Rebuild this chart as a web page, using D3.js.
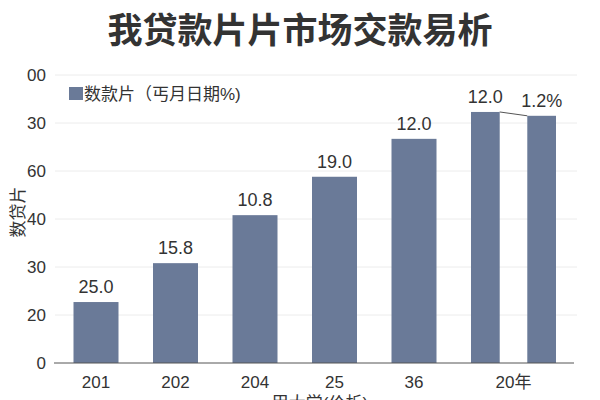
<!DOCTYPE html>
<html>
<head>
<meta charset="utf-8">
<script src="https://cdn.jsdelivr.net/npm/d3@7"></script>
<style>
  body { margin: 0; background: #fff; }
  svg { display: block; }
  text { font-family: "Liberation Sans", "Noto Sans CJK SC", sans-serif; fill: #333; }
</style>
</head>
<body>
<svg></svg>
<script>
// Abmessungen
const width = 600;
const height = 400;

// Daten aus dem Bild
const categories = ["201", "202", "204", "25", "36", "20年"];
const barCategory = ["201", "202", "204", "25", "36", "20年", "20年"];
const barValues = [12.7, 20.8, 30.8, 38.8, 46.7, 52.3, 51.5];
const barLabels = ["25.0", "15.8", "10.8", "19.0", "12.0", "12.0", "1.2%"];
const yTickValues = [0, 10, 20, 30, 40, 50, 60];
const yTickLabels = ["0", "20", "30", "40", "60", "30", "00"];

const title = "我贷款片片市场交款易析";
const legendLabel = "数款片（丐月日期%)";
const yTitle = "数贷片";
const xTitle = "甲大学(价析)";

const svg = d3.select("svg")
    .attr("width", width)
    .attr("height", height);

// Skalen
const x = d3.scaleBand()
    .domain(categories)
    .range([56.25, 533.25])
    .paddingInner(0.434)
    .paddingOuter(0.217);

const y = d3.scaleLinear()
    .domain([0, 60])
    .range([363, 75]);

// jede Gruppe bekommt eine eigene Unterskala (letzte Gruppe hat zwei Balken)
const groups = categories.map(c => {
    const idx = barCategory.map((b, i) => b === c ? i : -1).filter(i => i >= 0);
    const x0 = x(c);
    const multi = idx.length > 1;
    const x1 = multi ? x0 + x.bandwidth() + 40 : x0 + x.bandwidth();
    const sub = d3.scaleBand().domain(idx).range([x0, x1]).paddingInner(multi ? 0.49 : 0);
    return { cat: c, idx, sub, center: (x0 + x1) / 2 };
});

const bars = [];
groups.forEach(g => g.idx.forEach(i => bars.push({
    i, x: g.sub(i), w: g.sub.bandwidth(), v: barValues[i], label: barLabels[i]
})));

// Gitterlinien
svg.append("g")
    .selectAll("line")
    .data(yTickValues.filter(d => d > 0))
    .enter().append("line")
    .attr("x1", 55).attr("x2", 577)
    .attr("y1", d => y(d)).attr("y2", d => y(d))
    .attr("stroke", "#ececec")
    .attr("stroke-width", 1);

// y-Achse
const yAxis = svg.append("g")
    .attr("transform", "translate(54,0)")
    .call(d3.axisLeft(y).tickValues(yTickValues)
        .tickFormat((d, i) => yTickLabels[i]).tickSize(0).tickPadding(8));
yAxis.select(".domain").remove();
yAxis.selectAll("text").style("font-size", "17px").attr("fill", "#333");

// Balken
svg.append("g")
    .selectAll("rect")
    .data(bars)
    .enter().append("rect")
    .attr("x", d => d.x)
    .attr("y", d => y(d.v))
    .attr("width", d => d.w)
    .attr("height", d => y(0) - y(d.v))
    .attr("fill", "#6a7a98");

// Werte über den Balken
svg.append("g")
    .selectAll("text")
    .data(bars)
    .enter().append("text")
    .attr("x", d => d.x + d.w / 2)
    .attr("y", d => y(d.v) - 9)
    .attr("text-anchor", "middle")
    .style("font-size", "18px")
    .text(d => d.label);

// Verbindungslinie zwischen den letzten zwei Balken
const b6 = bars[5], b7 = bars[6];
svg.append("line")
    .attr("x1", b6.x + b6.w).attr("y1", y(b6.v))
    .attr("x2", b7.x).attr("y2", y(b7.v))
    .attr("stroke", "#555")
    .attr("stroke-width", 1);

// Grundlinie
svg.append("line")
    .attr("x1", 54).attr("x2", 574)
    .attr("y1", y(0)).attr("y2", y(0))
    .attr("stroke", "#555")
    .attr("stroke-width", 1);

// x-Beschriftungen
svg.append("g")
    .selectAll("text")
    .data(groups)
    .enter().append("text")
    .attr("x", d => d.center)
    .attr("y", 388)
    .attr("text-anchor", "middle")
    .style("font-size", "17px")
    .text(d => d.cat);

// Titel
svg.append("text")
    .attr("x", width / 2)
    .attr("y", 43)
    .attr("text-anchor", "middle")
    .style("font-family", "'Noto Sans CJK SC', sans-serif")
    .style("font-weight", "bold")
    .style("font-size", "35px")
    .text(title);

// Legende
svg.append("rect")
    .attr("x", 69).attr("y", 87)
    .attr("width", 14).attr("height", 13)
    .attr("fill", "#6a7a98");
svg.append("text")
    .attr("x", 84).attr("y", 100)
    .style("font-size", "17px")
    .text(legendLabel);

// Achsentitel
svg.append("text")
    .attr("transform", "translate(24,212) rotate(-90)")
    .attr("text-anchor", "middle")
    .style("font-size", "17px")
    .text(yTitle);

// im Original unten abgeschnitten
svg.append("text")
    .attr("x", 320)
    .attr("y", 409)
    .attr("text-anchor", "middle")
    .style("font-size", "17px")
    .text(xTitle);
</script>
</body>
</html>
